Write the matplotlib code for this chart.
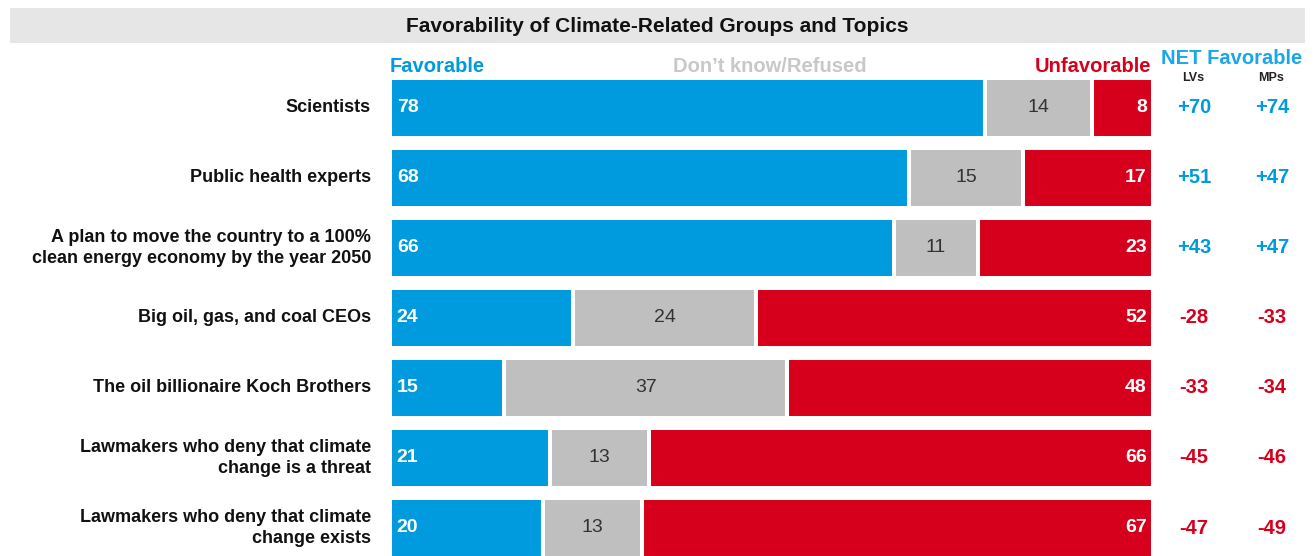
import matplotlib.pyplot as plt
import matplotlib.transforms as mtransforms
from matplotlib.patches import Rectangle

plt.rcParams['font.family'] = ['Liberation Sans', 'DejaVu Sans']

categories = ["Scientists", "Public health experts",
              "A plan to move the country to a 100%\nclean energy economy by the year 2050",
              "Big oil, gas, and coal CEOs", "The oil billionaire Koch Brothers",
              "Lawmakers who deny that climate\nchange is a threat",
              "Lawmakers who deny that climate\nchange exists"]
favorable = [78, 68, 66, 24, 15, 21, 20]
dont_know = [14, 15, 11, 24, 37, 13, 13]
unfavorable = [8, 17, 23, 52, 48, 66, 67]
net_lv = [70, 51, 43, -28, -33, -45, -47]
net_mp = [74, 47, 47, -33, -34, -46, -49]

BLUE = "#009ADE"
GRAY = "#BFBFBF"
RED = "#D6001C"

W, H = 1315, 556
fig = plt.figure(figsize=(W / 100, H / 100), dpi=100)

# title bar
fig.patches.append(Rectangle((10 / W, 1 - 43 / H), 1295 / W, 35 / H, transform=fig.transFigure,
                             facecolor="#E6E6E6", edgecolor="none", zorder=0))
fig.text(0.5, 1 - 27 / H, "Favorability of Climate-Related Groups and Topics",
         ha="center", va="center", fontsize=15, fontweight="bold", color="#111111")

ax = fig.add_axes([390 / W, 0, (1153 - 390) / W, (556 - 73) / H])
ax.set_xlim(0, 100)
ax.set_ylim(6.4, -0.5)
ax.axis("off")

y = list(range(len(categories)))
left2 = [f + d for f, d in zip(favorable, dont_know)]
kw = dict(height=0.87, edgecolor="white", linewidth=2.9)
ax.barh(y, favorable, color=BLUE, **kw)
ax.barh(y, dont_know, left=favorable, color=GRAY, **kw)
ax.barh(y, unfavorable, left=left2, color=RED, **kw)

blend = mtransforms.blended_transform_factory(fig.transFigure, ax.transData)
for i in y:
    ax.text(0.9, i, str(favorable[i]), ha="left", va="center", color="white",
            fontsize=14, fontweight="bold")
    ax.text(favorable[i] + dont_know[i] / 2, i, str(dont_know[i]), ha="center", va="center",
            color="#333333", fontsize=14)
    ax.text(99.2, i, str(unfavorable[i]), ha="right", va="center", color="white",
            fontsize=14, fontweight="bold")
    ax.text(-2.5, i, categories[i], ha="right", va="center", color="#111111",
            fontsize=13, fontweight="bold", linespacing=1.25)
    for x, v in ((1194, net_lv[i]), (1272, net_mp[i])):
        ax.text(x / W, i, f"{v:+d}", transform=blend, ha="center",
                va="center", fontsize=14.5, fontweight="bold",
                color=BLUE if v > 0 else RED)

hy = 1 - 66 / H
fig.text(390 / W, hy, "Favorable", ha="left", va="center", color=BLUE,
         fontsize=14.5, fontweight="bold")
fig.text(770 / W, hy, "Don\u2019t know/Refused", ha="center", va="center", color="#C8C8C8",
         fontsize=14.5, fontweight="bold")
fig.text(1151 / W, hy, "Unfavorable", ha="right", va="center", color=RED,
         fontsize=14.5, fontweight="bold")
fig.text(1232 / W, 1 - 58 / H, "NET Favorable", ha="center", va="center", color="#1AA7E8",
         fontsize=14.5, fontweight="bold")
fig.text(1193 / W, 1 - 78 / H, "LVs", ha="center", va="center", color="#222222",
         fontsize=9, fontweight="bold")
fig.text(1271 / W, 1 - 78 / H, "MPs", ha="center", va="center", color="#222222",
         fontsize=9, fontweight="bold")

fig.savefig("out.png", dpi=100)
